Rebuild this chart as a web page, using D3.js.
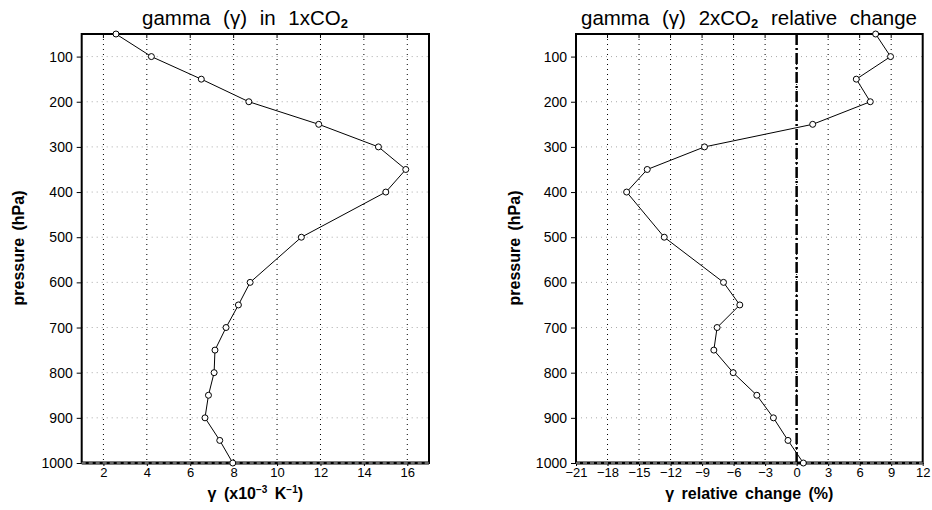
<!DOCTYPE html>
<html>
<head>
<meta charset="utf-8">
<script src="https://cdn.jsdelivr.net/npm/d3@7"></script>
<style>
  html, body { margin: 0; padding: 0; background: #fff; }
  svg { display: block; }
  text { font-family: "Liberation Sans", Arial, sans-serif; fill: #000; }
</style>
</head>
<body>
<svg id="chart" width="932" height="510"></svg>
<script>
// Pressure levels (hPa)
const levels = [50, 100, 150, 200, 250, 300, 350, 400, 500, 600, 650, 700, 750, 800, 850, 900, 950, 1000];
// gamma in 1xCO2 (x10^-3 K^-1)
const gamma1x = [2.58, 4.21, 6.51, 8.70, 11.92, 14.67, 15.93, 15.01, 11.12, 8.76, 8.22, 7.65, 7.14, 7.10, 6.84, 6.68, 7.36, 7.96];
// gamma relative change for 2xCO2 (%)
const gammaChange = [7.52, 8.94, 5.68, 7.01, 1.53, -8.77, -14.22, -16.18, -12.60, -6.96, -5.41, -7.57, -7.88, -6.04, -3.79, -2.21, -0.82, 0.64];

const pressureTicks = [100, 200, 300, 400, 500, 600, 700, 800, 900, 1000];
const leftXTicks = [2, 4, 6, 8, 10, 12, 14, 16];
const rightXTicks = [-21, -18, -15, -12, -9, -6, -3, 0, 3, 6, 9, 12];

const svg = d3.select("#chart");
const plotTop = 34, plotBottom = 463;

function panel(opts) {
  const g = svg.append("g");
  const x = d3.scaleLinear().domain(opts.xDomain).range([opts.left, opts.right]);
  const y = d3.scaleLinear().domain([50, 1000]).range([plotTop, plotBottom]);
  const innerX = opts.xTicks.filter(v => v > opts.xDomain[0] && v < opts.xDomain[1]);

  // vertical dotted grid
  g.append("g").selectAll("line").data(innerX)
    .join("line")
    .attr("x1", d => x(d)).attr("x2", d => x(d))
    .attr("y1", plotTop).attr("y2", plotBottom)
    .attr("stroke", "#000").attr("stroke-width", 1)
    .attr("stroke-dasharray", "1,4");

  // horizontal dotted grid
  g.append("g").selectAll("line").data(pressureTicks.filter(v => v < 1000))
    .join("line")
    .attr("x1", opts.left).attr("x2", opts.right)
    .attr("y1", d => y(d)).attr("y2", d => y(d))
    .attr("stroke", "#aaa").attr("stroke-width", 1)
    .attr("stroke-dasharray", "1,4");

  // small inner ticks along the top edge
  g.append("g").selectAll("line").data(innerX)
    .join("line")
    .attr("x1", d => x(d)).attr("x2", d => x(d))
    .attr("y1", plotTop).attr("y2", plotTop + 4)
    .attr("stroke", "#000").attr("stroke-width", 1);

  if (opts.zeroLine) {
    g.append("line")
      .attr("x1", x(0)).attr("x2", x(0))
      .attr("y1", plotTop).attr("y2", plotBottom)
      .attr("stroke", "#000").attr("stroke-width", 2.5)
      .attr("stroke-dasharray", "11,3,2,3");
  }

  // y axis
  const yAxis = g.append("g")
    .attr("transform", `translate(${opts.left},0)`)
    .call(d3.axisLeft(y).tickValues(pressureTicks).tickSize(5).tickPadding(4).tickFormat(d3.format("d")));
  yAxis.select(".domain").remove();
  yAxis.selectAll("text").attr("font-size", 14).attr("font-family", "Liberation Sans, Arial, sans-serif").attr("fill", "#000");

  // x axis
  const xAxis = g.append("g")
    .attr("transform", `translate(0,${plotBottom})`)
    .call(d3.axisBottom(x).tickValues(opts.xTicks).tickSize(3).tickPadding(2)
      .tickFormat(d => d < 0 ? "\u2212" + Math.abs(d) : String(d)));
  xAxis.select(".domain").remove();
  xAxis.selectAll("text").attr("font-size", 13).attr("font-family", "Liberation Sans, Arial, sans-serif").attr("fill", "#000");

  // frame
  g.append("rect")
    .attr("x", opts.left).attr("y", plotTop)
    .attr("width", opts.right - opts.left).attr("height", plotBottom - plotTop)
    .attr("fill", "none").attr("stroke", "#000").attr("stroke-width", 2);
  // 1000 hPa reference line along the bottom edge
  g.append("line")
    .attr("x1", opts.left).attr("x2", opts.right)
    .attr("y1", plotBottom).attr("y2", plotBottom)
    .attr("stroke", "#000").attr("stroke-width", 3);
  g.append("line")
    .attr("x1", opts.left).attr("x2", opts.right)
    .attr("y1", plotBottom).attr("y2", plotBottom)
    .attr("stroke", "#ccc").attr("stroke-width", 1)
    .attr("stroke-dasharray", "4,3");

  // profile line
  const pts = levels.map((p, i) => [opts.values[i], p]);
  g.append("path")
    .datum(pts)
    .attr("fill", "none").attr("stroke", "#000").attr("stroke-width", 1)
    .attr("d", d3.line().x(d => x(d[0])).y(d => y(d[1])));
  g.append("g").selectAll("circle").data(pts)
    .join("circle")
    .attr("cx", d => x(d[0])).attr("cy", d => y(d[1]))
    .attr("r", 3)
    .attr("fill", "#fff").attr("stroke", "#000").attr("stroke-width", 1);

  // title
  const t = g.append("text")
    .attr("x", opts.titleX).attr("y", 25)
    .attr("text-anchor", "middle")
    .attr("font-size", 20.5)
    .attr("word-spacing", 7);
  opts.title(t);

  // y label
  g.append("text")
    .attr("transform", `translate(${opts.yLabelX},248) rotate(-90)`)
    .attr("text-anchor", "middle")
    .attr("font-size", 16).attr("font-weight", "bold")
    .attr("word-spacing", 3)
    .text("pressure (hPa)");

  // x label
  const xl = g.append("text")
    .attr("x", (opts.left + opts.right) / 2).attr("y", 499)
    .attr("text-anchor", "middle")
    .attr("font-size", 16).attr("font-weight", "bold")
    .attr("word-spacing", 3);
  opts.xLabel(xl);
}

panel({
  left: 81.7, right: 429,
  xDomain: [1, 17],
  xTicks: leftXTicks,
  values: gamma1x,
  titleX: 245,
  yLabelX: 24,
  title: t => {
    t.append("tspan").text("gamma (\u03b3) in 1xCO");
    t.append("tspan").attr("font-size", 13).attr("font-weight", "bold").attr("dy", 3).text("2");
  },
  xLabel: t => {
    t.append("tspan").text("\u03b3 (x10");
    t.append("tspan").attr("font-size", 10).attr("dy", -6).text("\u2212\u0033");
    t.append("tspan").attr("dy", 6).text(" K");
    t.append("tspan").attr("font-size", 10).attr("dy", -6).text("\u2212\u0031");
    t.append("tspan").attr("dy", 6).text(")");
  }
});

panel({
  left: 576, right: 922.7,
  xDomain: [-21, 12],
  xTicks: rightXTicks,
  values: gammaChange,
  zeroLine: true,
  titleX: 749,
  yLabelX: 520,
  title: t => {
    t.append("tspan").text("gamma (\u03b3) 2xCO");
    t.append("tspan").attr("font-size", 13).attr("font-weight", "bold").attr("dy", 3).text("2");
    t.append("tspan").attr("dy", -3).text(" relative change");
  },
  xLabel: t => {
    t.text("\u03b3 relative change (%)");
  }
});
</script>
</body>
</html>
